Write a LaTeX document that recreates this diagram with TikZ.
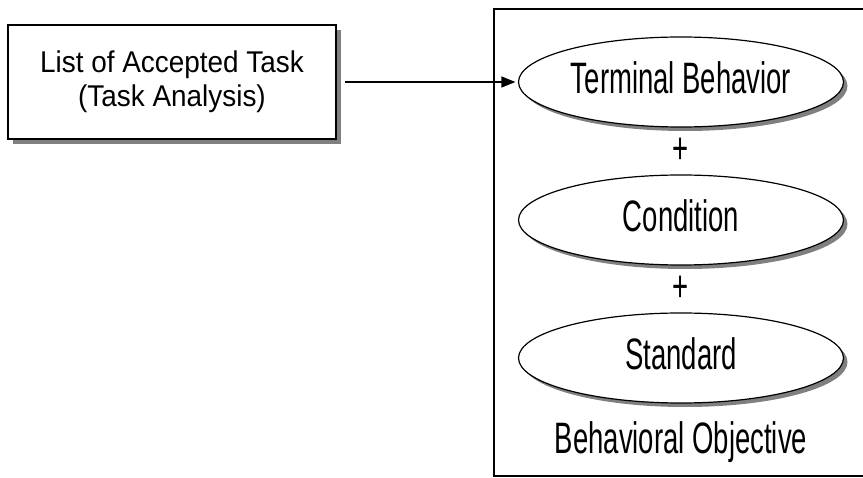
\documentclass[tikz,border=0pt]{standalone}
\usepackage{fontspec}
\setmainfont{Liberation Sans}[FakeStretch=0.625]
\newfontfamily\taskfont{Liberation Sans}[FakeStretch=0.93]
\usepackage{tikz}
\usepackage{xcolor}
\usetikzlibrary{arrows.meta}
\usetikzlibrary{shapes,shadows,positioning}

\begin{document}
\begin{tikzpicture}[x=1pt,y=-1pt,>={Triangle[length=14pt,width=11pt]},node distance=69pt,
                    task node/.style={rectangle,draw,line width=1.5pt,fill=white,minimum width=328pt,minimum height=114pt,
                      align=center,font=\taskfont\fontsize{30}{34}\selectfont,
                      drop shadow={shadow xshift=5pt,shadow yshift=-5pt,fill=gray,opacity=1}},
                    goal node/.style={ellipse,draw,line width=1.2pt,fill=white,minimum width=325pt,minimum height=90pt,
                      inner sep=0pt,text depth=9pt,font=\fontsize{44}{48}\selectfont,
                      drop shadow={shadow xshift=4pt,shadow yshift=-4pt,fill=gray,opacity=1}},
                    plain node/.style={font=\fontsize{44}{48}\selectfont}]

  \path[use as bounding box,clip] (0,0) rectangle (863,478);

  \node[task node] (task) at (172,82) {List of Accepted Task\\(Task Analysis)};
  % the objective frame runs off the right side of the page
  \node[minimum width=386pt,minimum height=467pt] (obj) at (687,242.5) {};
  \draw[line width=1.5pt] (obj.north east) -- (obj.north west) -- (obj.south west) -- (obj.south east);

  \node[goal node] (term) at (681,82) {Terminal Behavior};
  \node[plain node] (plus1) [below of=term] {+};
  \node[goal node] (cond) [below of=plus1] {Condition};
  \node[plain node] (plus2) [below of=cond] {+};
  \node[goal node] (std) [below of=plus2] {Standard};
  \node[plain node,text depth=9pt] (objname) [below of=std,node distance=84pt] {Behavioral Objective};

  \path[line width=1.2pt]
    (task) edge[->,shorten <=8pt,shorten >=2.5pt] (term)
    ;
\end{tikzpicture}
\end{document}
